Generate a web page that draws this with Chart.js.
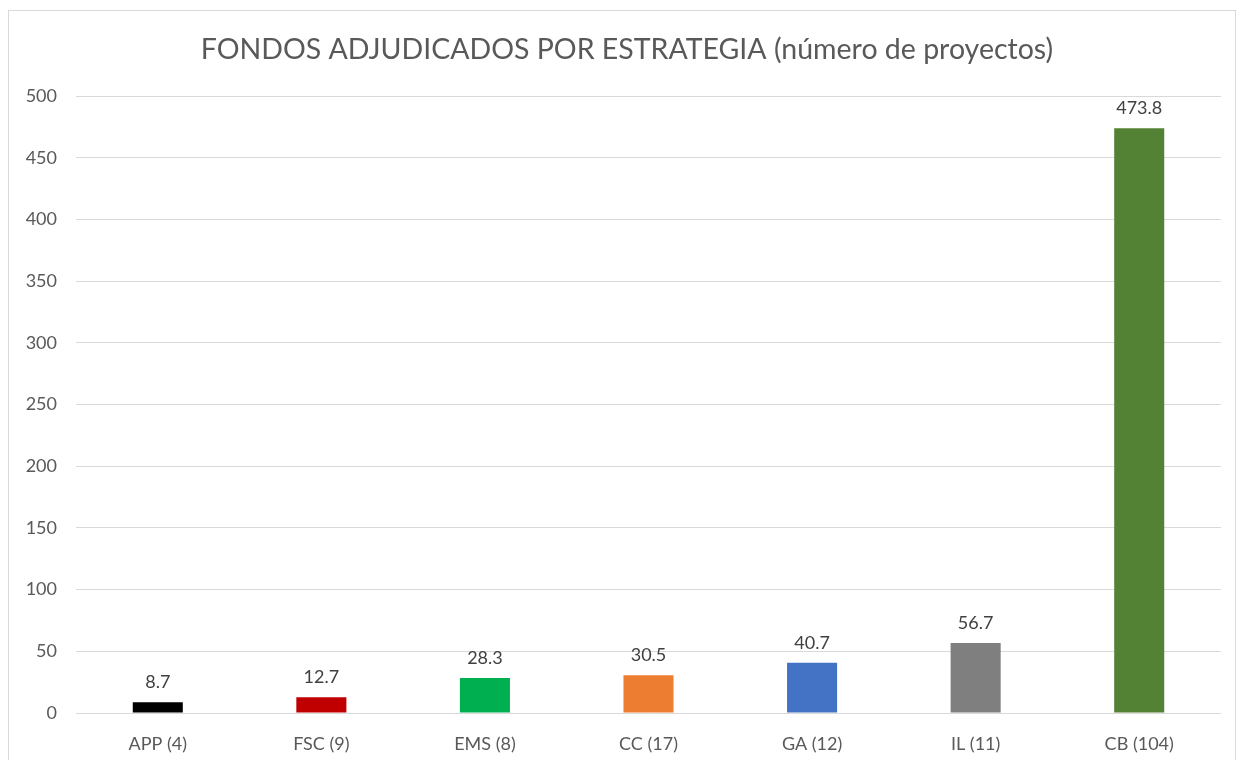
<!DOCTYPE html>
<html>
<head>
<meta charset="utf-8">
<script src="https://cdn.jsdelivr.net/npm/chart.js@4.4.0/dist/chart.umd.min.js"></script>
<style>
  html, body { margin: 0; padding: 0; background: #ffffff; }
  #wrap { position: absolute; left: 0; top: 0; width: 1246px; height: 760px; }
  #frame { position: absolute; left: 8px; top: 10px; width: 1228px; height: 770px; border: 1px solid #d9d9d9; box-sizing: border-box; }
  canvas { position: absolute; left: 0; top: 0; }
</style>
</head>
<body>
<div id="wrap">
  <div id="frame"></div>
  <canvas id="c" width="1246" height="760"></canvas>
</div>
<script>
const categories = ["APP (4)", "FSC (9)", "EMS (8)", "CC (17)", "GA (12)", "IL (11)", "CB (104)"];
const values = [8.7, 12.7, 28.3, 30.5, 40.7, 56.7, 473.8];
const barColors = ["#000000", "#C00000", "#00B050", "#ED7D31", "#4472C4", "#7F7F7F", "#548235"];
const yTicks = [0, 50, 100, 150, 200, 250, 300, 350, 400, 450, 500];
const titleText = "FONDOS ADJUDICADOS POR ESTRATEGIA (número de proyectos)";

const FONT = "Lato, 'Open Sans', sans-serif";

const valueLabels = {
  id: 'valueLabels',
  afterDatasetsDraw(chart) {
    const ctx = chart.ctx;
    const meta = chart.getDatasetMeta(0);
    ctx.save();
    ctx.font = "18px " + FONT;
    ctx.fillStyle = "#404040";
    ctx.textAlign = "center";
    ctx.textBaseline = "bottom";
    meta.data.forEach((bar, i) => {
      ctx.fillText(String(values[i]), bar.x, bar.y - 11);
    });
    ctx.restore();
  }
};

const chartTitle = {
  id: 'chartTitle',
  afterDraw(chart) {
    const ctx = chart.ctx;
    ctx.save();
    ctx.font = "28.5px " + FONT;
    ctx.fillStyle = "#595959";
    ctx.textAlign = "center";
    ctx.textBaseline = "middle";
    ctx.fillText(titleText, 627, 50);
    ctx.restore();
  }
};

new Chart(document.getElementById('c'), {
  type: 'bar',
  data: {
    labels: categories,
    datasets: [{
      data: values,
      backgroundColor: barColors,
      borderWidth: 0,
      barPercentage: 0.306,
      categoryPercentage: 1.0
    }]
  },
  options: {
    responsive: false,
    animation: false,
    devicePixelRatio: 1,
    layout: { padding: { left: 0, right: 25, top: 96, bottom: 0 } },
    plugins: {
      legend: { display: false },
      tooltip: { enabled: false },
      title: { display: false }
    },
    scales: {
      x: {
        grid: { display: false, drawTicks: false },
        border: { display: false },
        ticks: { color: "#595959", font: { family: FONT, size: 18 }, padding: 20, maxRotation: 0 },
        afterFit(scale) { scale.height = 47; }
      },
      y: {
        min: 0, max: 500,
        afterBuildTicks(scale) { scale.ticks = yTicks.map(v => ({ value: v })); },
        grid: { color: "#d9d9d9", lineWidth: 1, drawTicks: false },
        border: { display: false },
        ticks: { color: "#595959", font: { family: FONT, size: 18 }, padding: 19 },
        afterFit(scale) { scale.width = 76; }
      }
    }
  },
  plugins: [valueLabels, chartTitle]
});
</script>
</body>
</html>
